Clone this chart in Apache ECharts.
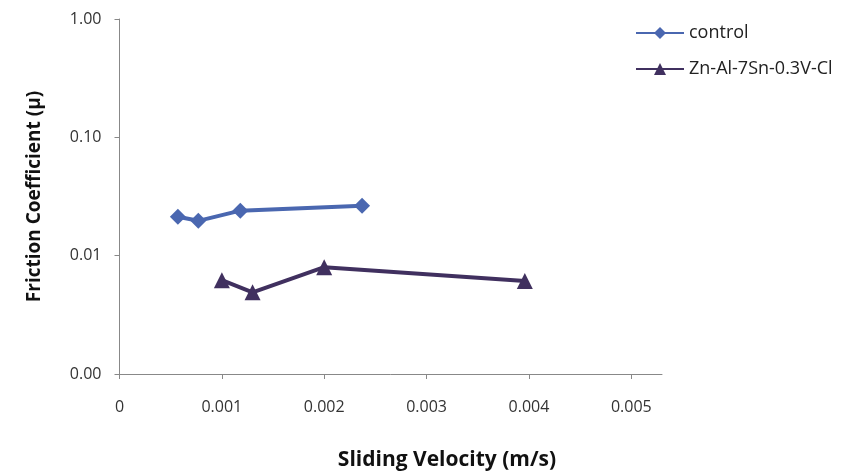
<!DOCTYPE html>
<html>
<head>
<meta charset="utf-8">
<script src="https://cdn.jsdelivr.net/npm/echarts@6/dist/echarts.min.js"></script>
<style>html,body{margin:0;padding:0;background:#fff}#c{width:845px;height:471px}</style>
</head>
<body>
<div id="c"></div>
<script>
const seriesNames = ['control', 'Zn-Al-7Sn-0.3V-Cl'];
const controlX = [0.00057, 0.00077, 0.00118, 0.00237];
const controlY = [0.0213, 0.0197, 0.0240, 0.0264];
const alloyX = [0.0010, 0.0013, 0.0020, 0.00396];
const alloyY = [0.0062, 0.0049, 0.0080, 0.0061];
const xTicks = [0, 0.001, 0.002, 0.003, 0.004, 0.005];
const xTitle = 'Sliding Velocity (m/s)';
const yTitle = 'Friction Coefficient (µ)';

const chart = echarts.init(document.getElementById('c'));
const pair = (xs, ys) => xs.map((x, i) => [x, ys[i]]);
chart.setOption({
  animation: false,
  backgroundColor: '#fff',
  title: {
    text: xTitle, left: 442, top: 445, textAlign: 'center',
    textStyle: { fontFamily: 'Open Sans', fontWeight: 'bold', fontSize: 21, color: '#111' }
  },
  grid: { left: 119.5, top: 19, right: 183, bottom: 97 },
  legend: {
    orient: 'vertical', left: 630, top: 19, itemWidth: 48, itemHeight: 15, itemGap: 18,
    textStyle: { fontFamily: 'Open Sans', fontSize: 18, color: '#222' },
    data: seriesNames
  },
  xAxis: {
    type: 'value', min: 0, max: 0.0053,
    axisLine: { lineStyle: { color: '#888', width: 1 } },
    axisTick: { show: true, length: 5, lineStyle: { color: '#888' }, customValues: xTicks },
    axisLabel: { customValues: xTicks, margin: 25, fontFamily: 'Open Sans', fontSize: 16, color: '#333',
      formatter: v => v === 0 ? '0' : v.toFixed(3) },
    splitLine: { show: false }
  },
  yAxis: {
    type: 'log', logBase: 10, min: 0.001, max: 1,
    name: yTitle, nameLocation: 'middle', nameGap: 75,
    nameTextStyle: { fontFamily: 'Open Sans', fontWeight: 'bold', fontSize: 19, color: '#111' },
    axisLine: { show: true, lineStyle: { color: '#888', width: 1 } },
    axisTick: { show: true, length: 5, lineStyle: { color: '#888' } },
    axisLabel: { margin: 18, fontFamily: 'Open Sans', fontSize: 16, color: '#333',
      formatter: v => v.toFixed(2) },
    splitLine: { show: false },
    minorTick: { show: false }
  },
  series: [
    { name: seriesNames[0], type: 'line', data: pair(controlX, controlY),
      symbol: 'diamond', symbolSize: 16,
      lineStyle: { color: '#4A67B0', width: 4 },
      itemStyle: { color: '#4A67B0' } },
    { name: seriesNames[1], type: 'line', data: pair(alloyX, alloyY),
      symbol: 'triangle', symbolSize: 16,
      lineStyle: { color: '#40305F', width: 4 },
      itemStyle: { color: '#40305F' } }
  ]
});
</script>
</body>
</html>
